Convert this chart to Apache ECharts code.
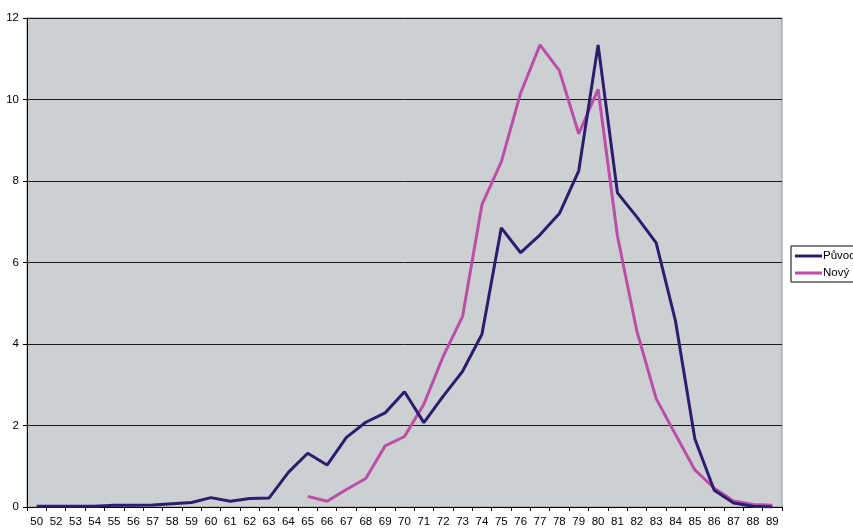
<!DOCTYPE html>
<html>
<head>
<meta charset="utf-8">
<script src="https://cdn.jsdelivr.net/npm/echarts@6/dist/echarts.min.js"></script>
<style>
  html, body { margin: 0; padding: 0; background: #fff; }
  #chart { width: 853px; height: 528px; }
</style>
</head>
<body>
<div id="chart"></div>
<script>
// Category labels (no 51 in the source table)
var categories = ['50','52','53','54','55','56','57','58','59','60','61','62','63','64','65','66','67','68','69',
  '70','71','72','73','74','75','76','77','78','79','80','81','82','83','84','85','86','87','88','89'];

// Original distribution
var puvodni = [0.02,0.02,0.02,0.02,0.04,0.04,0.05,0.08,0.11,0.23,0.14,0.21,0.22,0.85,1.32,1.03,1.71,2.08,2.31,
  2.83,2.07,2.72,3.33,4.24,6.85,6.24,6.68,7.2,8.25,11.34,7.71,7.12,6.48,4.56,1.67,0.41,0.1,0.02,0.0];

// New distribution (starts at 65)
var novy = [null,null,null,null,null,null,null,null,null,null,null,null,null,null,0.26,0.14,0.43,0.7,1.5,
  1.73,2.52,3.7,4.68,7.42,8.47,10.16,11.34,10.71,9.16,10.25,6.65,4.32,2.66,1.78,0.91,0.46,0.15,0.06,0.04];

var yTicks = { min: 0, max: 12, interval: 2 };

var chart = echarts.init(document.getElementById('chart'), null, { renderer: 'canvas' });
var font = 'Liberation Sans, Arial, sans-serif';

chart.setOption({
  backgroundColor: '#ffffff',
  animation: false,
  grid: {
    left: 27, right: 71, top: 18, bottom: 21,
    show: true,
    backgroundColor: '#CDD0D3',
    borderColor: '#8E9093',
    borderWidth: 1
  },
  legend: {
    orient: 'vertical',
    left: 791,
    top: 246,
    padding: [4, 40, 3, 4],
    itemGap: 5,
    itemWidth: 27,
    itemHeight: 3,
    icon: 'rect',
    borderColor: '#000',
    borderWidth: 1,
    backgroundColor: '#fff',
    textStyle: { fontFamily: font, fontSize: 11.5, color: '#000', padding: [0, 0, 0, -4] },
    data: ['Původní', 'Nový']
  },
  xAxis: {
    type: 'category',
    data: categories,
    boundaryGap: true,
    axisLine: { lineStyle: { color: '#000', width: 1 } },
    axisTick: { show: true, length: 4, interval: 0, lineStyle: { color: '#000' } },
    axisLabel: { interval: 0, fontFamily: font, fontSize: 11.5, color: '#000', margin: 9 },
    splitLine: { show: false }
  },
  yAxis: {
    type: 'value',
    min: yTicks.min, max: yTicks.max, interval: yTicks.interval,
    axisLine: { show: true, lineStyle: { color: '#000', width: 1 } },
    axisTick: { show: true, length: 4, lineStyle: { color: '#000' } },
    axisLabel: { fontFamily: font, fontSize: 11.5, color: '#000', margin: 8 },
    splitLine: { show: true, lineStyle: { color: '#1a1a1a', width: 1 } }
  },
  series: [
    {
      name: 'Původní',
      type: 'line',
      data: puvodni,
      showSymbol: false,
      symbol: 'none',
      lineStyle: { color: '#2C1D6E', width: 3 },
      itemStyle: { color: '#2C1D6E' },
      z: 3
    },
    {
      name: 'Nový',
      type: 'line',
      data: novy,
      showSymbol: false,
      symbol: 'none',
      connectNulls: false,
      lineStyle: { color: '#BB4FA8', width: 3 },
      itemStyle: { color: '#BB4FA8' },
      z: 2
    }
  ]
});
</script>
</body>
</html>
